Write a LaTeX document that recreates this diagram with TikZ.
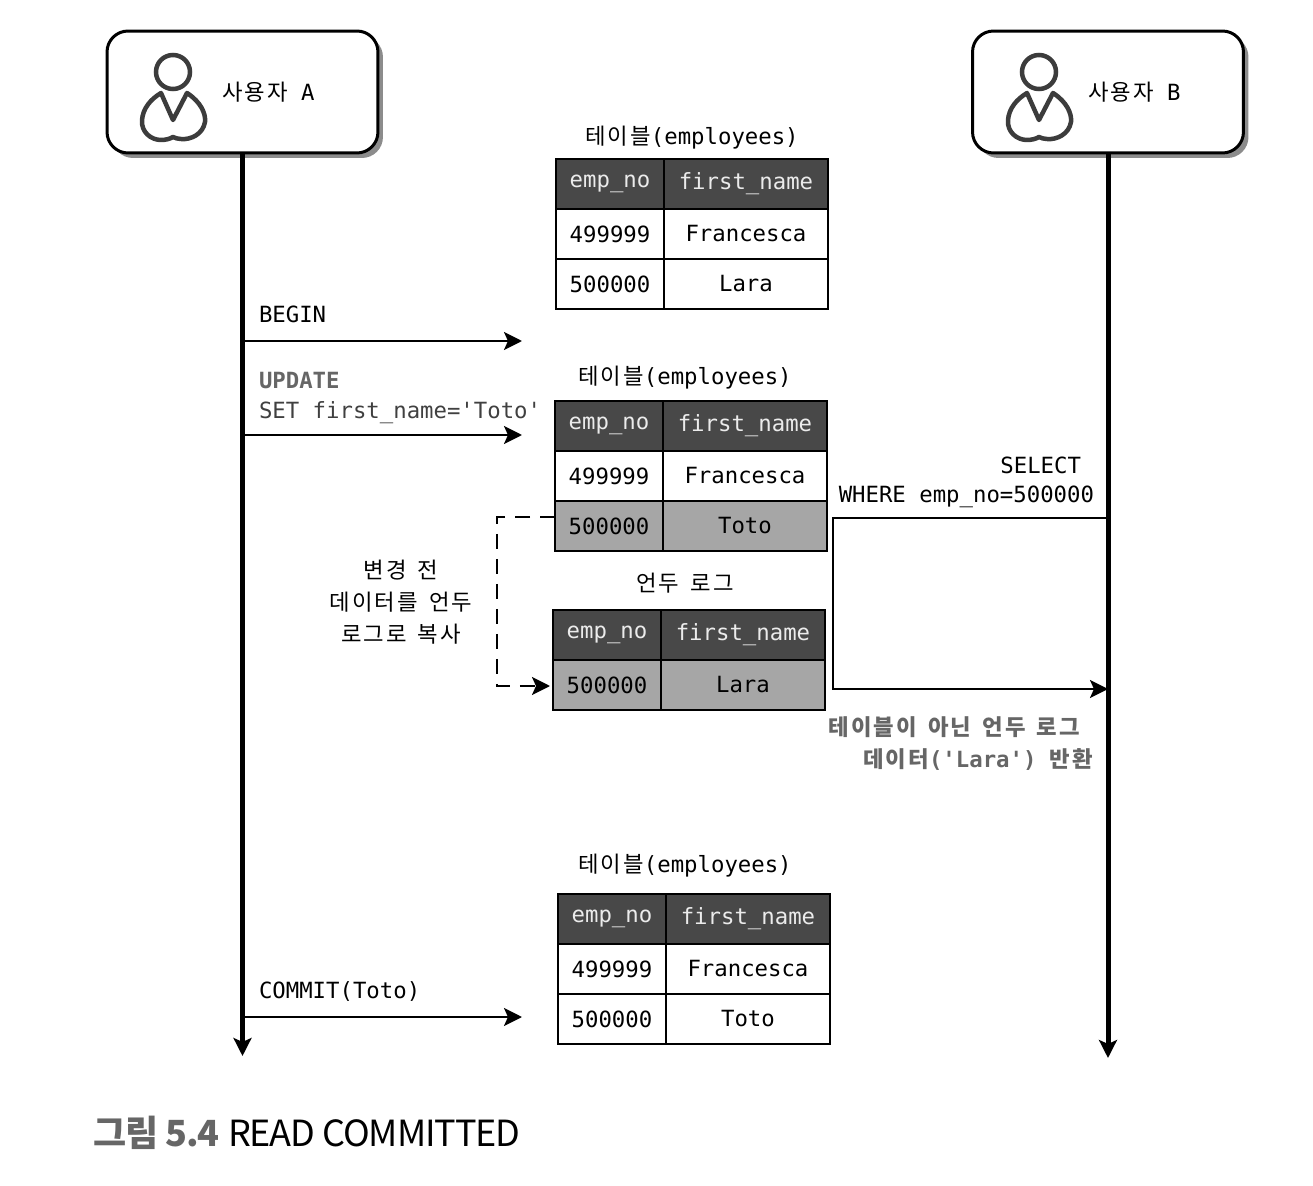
\documentclass[tikz,border=0pt]{standalone}
\usepackage{fontspec}
\setmonofont{DejaVu Sans Mono}
\newfontfamily\kr[LetterSpace=9,WordSpace=1.6]{Noto Sans CJK KR}
\newfontfamily\capfont[LetterSpace=-3]{Noto Sans CJK KR}
\usetikzlibrary{arrows.meta,positioning,shadows}
\definecolor{headgray}{HTML}{484848}
\definecolor{rowgray}{HTML}{A6A6A6}
\definecolor{notegray}{HTML}{666666}
\definecolor{icongray}{HTML}{3C3C3C}

\begin{document}
\begin{tikzpicture}[
    x=0.02cm, y=-0.02cm,
    node font=\ttfamily\fontsize{12.7}{15}\selectfont,
    >={Stealth[length=0.36cm, width=0.36cm, inset=0.08cm]},
    user box/.style={draw=black, fill=white, rounded corners=0.42cm, line width=0.06cm,
        minimum width=5.42cm, minimum height=2.44cm, outer sep=0pt,
        drop shadow={shadow xshift=0.1cm, shadow yshift=-0.1cm, fill=black, opacity=0.45}},
    cell/.style={draw=black, line width=0.05cm, minimum height=1cm, inner sep=0pt, outer sep=0pt},
    id cell/.style={cell, minimum width=2.16cm},
    name cell/.style={cell, minimum width=3.28cm},
    head/.style={fill=headgray, text=white!92!black},
    changed/.style={fill=rowgray},
    txt/.style={inner sep=0pt, outer sep=0pt},
    note/.style={txt, text=notegray},
    lifeline/.style={->, line width=0.1cm},
    msg/.style={->, line width=0.05cm},
    user icon/.pic={
        \draw[icongray, line width=0.09cm] (0,0) circle[radius=17];
        \draw[icongray, line width=0.09cm, line join=round] (-12,21) -- (0,48) -- (14,21)
            .. controls (28,30) and (33,42) .. (32,50)
            .. controls (30,62) and (18,68) .. (8,67)
            .. controls (5,67) and (2,66) .. (0,65)
            .. controls (-3,67) and (-8,68) .. (-12,68)
            .. controls (-22,68) and (-32,60) .. (-31,48)
            .. controls (-30,36) and (-22,27) .. cycle;
    },
]
\useasboundingbox (0,0) rectangle (1313,1186);

% === USERS ===
\node[user box] (usera) at (242.5,92) {};
\node[user box] (userb) at (1108,92) {};
\pic at (173,72) {user icon};
\pic at (1039,72) {user icon};
\node[txt, anchor=west] (namea) at (222,92) {{\kr 사용자} A};
\node[txt, anchor=west] (nameb) at (1088,92) {{\kr 사용자} B};

% === LIFELINES ===
\coordinate (aend) at (242.5,1056);
\coordinate (bend) at (1108,1058);
\draw[lifeline] (usera.south) -- (aend);
\draw[lifeline] (userb.south) -- (bend);

% === FIRST TABLE ===
\node[txt] (title1) at (692,138) {{\kr 테이블}(employees)};
\node[id cell, head] (t1a) at (610,184) {emp\_no};
\node[name cell, head, right=0pt of t1a] (t1b) {first\_name};
\node[id cell, below=0pt of t1a] (t1c) {499999};
\node[name cell, right=0pt of t1c] (t1d) {Francesca};
\node[id cell, below=0pt of t1c] (t1e) {500000};
\node[name cell, right=0pt of t1e] (t1f) {Lara};

% === SECOND TABLE ===
\node[txt] (title2) at (685,378) {{\kr 테이블}(employees)};
\node[id cell, head] (t2a) at (609,426) {emp\_no};
\node[name cell, head, right=0pt of t2a] (t2b) {first\_name};
\node[id cell, below=0pt of t2a] (t2c) {499999};
\node[name cell, right=0pt of t2c] (t2d) {Francesca};
\node[id cell, changed, below=0pt of t2c] (t2e) {500000};
\node[name cell, changed, right=0pt of t2e] (t2f) {Toto};

% === UNDO LOG ===
\node[txt] (title3) at (685,583) {\kr 언두 로그};
\node[id cell, head] (t3a) at (607,635) {emp\_no};
\node[name cell, head, right=0pt of t3a] (t3b) {first\_name};
\node[id cell, changed, below=0pt of t3a] (t3c) {500000};
\node[name cell, changed, right=0pt of t3c] (t3d) {Lara};

% === LAST TABLE ===
\node[txt] (title4) at (685,866) {{\kr 테이블}(employees)};
\node[id cell, head] (t4a) at (612,919) {emp\_no};
\node[name cell, head, right=0pt of t4a] (t4b) {first\_name};
\node[id cell, below=0pt of t4a] (t4c) {499999};
\node[name cell, right=0pt of t4c] (t4d) {Francesca};
\node[id cell, below=0pt of t4c] (t4e) {500000};
\node[name cell, right=0pt of t4e] (t4f) {Toto};

% === USER A MESSAGES ===
\coordinate (begina) at (242.5,341);
\coordinate (beginb) at (522,341);
\coordinate (updatea) at (242.5,435);
\coordinate (updateb) at (522,435);
\coordinate (commita) at (242.5,1017);
\coordinate (commitb) at (522,1017);
\draw[msg] (begina) -- (beginb);
\draw[msg] (updatea) -- (updateb);
\draw[msg] (commita) -- (commitb);
\node[txt, anchor=west] (lbegin) at (259,314) {BEGIN};
\node[note, font=\bfseries, anchor=west] (lupdate) at (259,381) {UPDATE};
\node[txt, anchor=west, text=black!75] (lset) at (259,413) {SET first\_name='Toto'};
\node[txt, anchor=west] (lcommit) at (259,991) {COMMIT(Toto)};

% === COPY TO UNDO ===
\coordinate (copyb) at (497,686);
\coordinate (copya) at (497,517);
\coordinate (copyend) at (550,686);
\draw[msg, dashed, dash pattern=on 0.3cm off 0.2cm] (t2e.west |- copya) -- (copya) -- (copyb) -- (copyend);
\node[txt] (lcopy1) at (401,570) {\kr 변경 전};
\node[txt] (lcopy2) at (401,602) {\kr 데이터를 언두};
\node[txt] (lcopy3) at (401,634) {\kr 로그로 복사};

% === USER B SELECT ===
\coordinate (selb) at (1108,518);
\coordinate (sela) at (833,518);
\coordinate (retb) at (1108,689);
\coordinate (reta) at (833,689);
\draw[msg] (selb) -- (sela) -- (reta) -- (retb);
\node[txt, anchor=east] (lselect) at (1081,465) {SELECT};
\node[txt, anchor=east] (lwhere) at (1094,497) {WHERE emp\_no=500000};
\node[note, font=\bfseries, anchor=east] (lret1) at (1080,727) {\kr 테이블이 아닌 언두 로그};
\node[note, font=\bfseries, anchor=east] (lret2) at (1093,760) {{\kr 데이터}('Lara') {\kr 반환}};

% === CAPTION ===
\node[txt, anchor=west, text=notegray, font=\capfont\bfseries\fontsize{20.5}{24}\selectfont] (capnum) at (93,1133) {그림 5.4};
\node[txt, anchor=west, font=\capfont\fontsize{20.5}{24}\selectfont] (captext) at (228,1133) {READ COMMITTED};
\end{tikzpicture}
\end{document}
